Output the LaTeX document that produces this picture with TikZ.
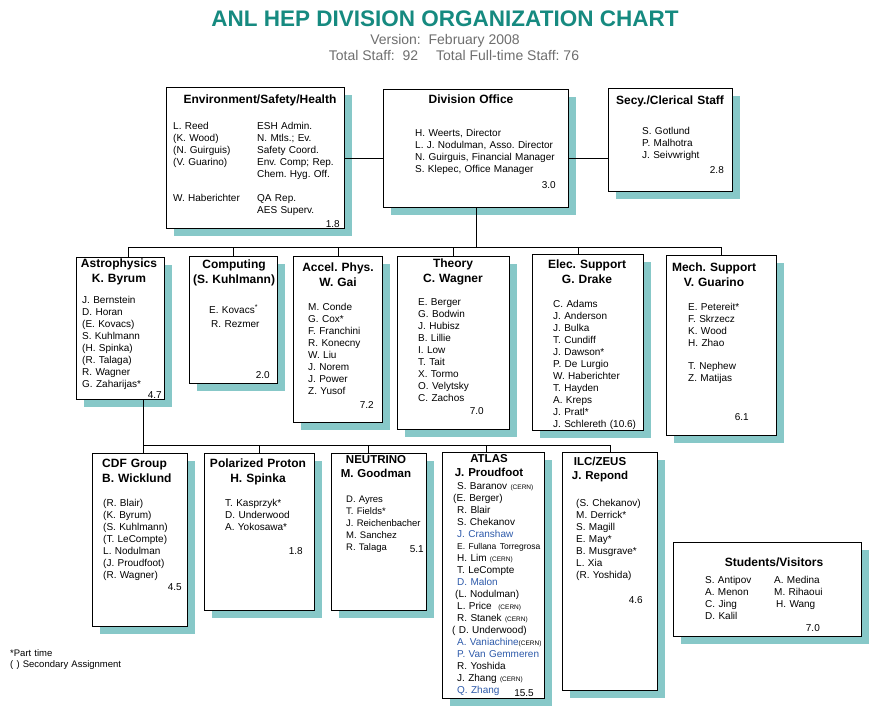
\documentclass[tikz,border=0pt]{standalone}
\usepackage{fontspec}
\setmainfont{Liberation Sans}
\frenchspacing
\usetikzlibrary{positioning,shadows}
\definecolor{chartteal}{RGB}{22,138,128}
\definecolor{boxshade}{RGB}{135,200,200}
\definecolor{subgray}{RGB}{110,110,110}
\definecolor{namblue}{RGB}{45,90,170}
\begin{document}
\begin{tikzpicture}[x=1pt,y=-1pt,
  box/.style={draw, line width=1pt, fill=white, anchor=north west, inner sep=0pt,
    drop shadow={shadow xshift=7pt, shadow yshift=-7pt, fill=boxshade, opacity=1}},
  head/.style={font=\fontsize{12}{15}\selectfont\bfseries, text width=170pt, align=center, anchor=base, inner sep=0pt},
  smallhead/.style={head, font=\fontsize{11.5}{14}\selectfont\bfseries},
  list/.style={font=\fontsize{10}{12}\selectfont, text width=150pt, align=left, anchor=base west, inner sep=0pt},
  num/.style={font=\fontsize{10}{12}\selectfont, anchor=base east, inner sep=0pt},
  link/.style={line width=0.8pt}]
\useasboundingbox (0,0) rectangle (896,716);

% title
\node[font=\fontsize{22.5}{26}\selectfont\bfseries, text=chartteal, anchor=base, inner sep=0pt] (title) at (445,26) {ANL HEP DIVISION ORGANIZATION CHART};
\node[font=\fontsize{14}{16}\selectfont, text=subgray, anchor=base, inner sep=0pt] (version) at (445,44) {Version:\ \ February 2008};
\node[font=\fontsize{14}{16}\selectfont, text=subgray, anchor=base, inner sep=0pt] (total) at (454,60) {Total Staff:\ \ 92\hspace{18pt}Total Full-time Staff:\ 76};

% top row
\node[box, minimum width=178, minimum height=141] (esh) at (166,87) {};
\node[head] (eshh) at ([shift={(94,16)}]esh.north west) {Environment/Safety/Health};
\node[list] (eshl) at ([shift={(7,42)}]esh.north west) {L. Reed\\(K. Wood)\\(N. Guirguis)\\(V. Guarino)\\[24pt]W. Haberichter};
\node[list] (eshr) at ([shift={(91,42)}]esh.north west) {ESH Admin.\\N. Mtls.; Ev.\\Safety Coord.\\Env. Comp; Rep.\\Chem. Hyg. Off.\\[12pt]QA Rep.\\AES Superv.};
\node[num] (eshn) at ([shift={(-5,-2)}]esh.south east) {1.8};

\node[box, minimum width=185, minimum height=118] (div) at (383,89) {};
\node[head] (divh) at ([shift={(88,14)}]div.north west) {Division Office};
\node[list] (divl) at ([shift={(32,47)}]div.north west) {H. Weerts, Director\\L. J. Nodulman, Asso. Director\\N. Guirguis, Financial Manager\\S. Klepec, Office Manager};
\node[num] (divn) at ([shift={(-13,-20)}]div.south east) {3.0};

\node[box, minimum width=124, minimum height=103] (secy) at (608,88) {};
\node[head] (secyh) at ([shift={(62,16)}]secy.north west) {Secy./Clerical Staff};
\node[list] (secyl) at ([shift={(34,46)}]secy.north west) {S. Gotlund\\P. Malhotra\\J. Seivwright};
\node[num] (secyn) at ([shift={(-9,-19)}]secy.south east) {2.8};

% groups
\node[box, minimum width=88, minimum height=142] (astro) at (76,257) {};
\node[head] (astroh) at ([shift={(43,10)}]astro.north west) {Astrophysics\\K. Byrum};
\node[list] (astrol) at ([shift={(6,46)}]astro.north west) {J. Bernstein\\D. Horan\\(E. Kovacs)\\S. Kuhlmann\\(H. Spinka)\\(R. Talaga)\\R. Wagner\\G. Zaharijas*};
\node[num] (astron) at ([shift={(-3,-2)}]astro.south east) {4.7};

\node[box, minimum width=88, minimum height=127] (comp) at (189,256) {};
\node[head] (comph) at ([shift={(45,12)}]comp.north west) {Computing\\(S. Kuhlmann)};
\node[list] (compl) at ([shift={(20,57)}]comp.north west) {E. Kovacs\textsuperscript{*}\\[2pt]\hspace*{2pt}R. Rezmer};
\node[num] (compn) at ([shift={(-8,-6)}]comp.south east) {2.0};

\node[box, minimum width=89, minimum height=166] (accel) at (293,256) {};
\node[head] (accelh) at ([shift={(45,15)}]accel.north west) {Accel. Phys.\\W. Gai};
\node[list] (accell) at ([shift={(15,54)}]accel.north west) {M. Conde\\G. Cox*\\F. Franchini\\R. Konecny\\W. Liu\\J. Norem\\J.\ Power\\Z. Yusof};
\node[num] (acceln) at ([shift={(-9,-15)}]accel.south east) {7.2};

\node[box, minimum width=112, minimum height=173] (theory) at (397,256) {};
\node[head] (theoryh) at ([shift={(56,11)}]theory.north west) {Theory\\C. Wagner};
\node[list] (theoryl) at ([shift={(21,49)}]theory.north west) {E. Berger\\G. Bodwin\\J. Hubisz\\B. Lillie\\I. Low\\T. Tait\\X. Tormo\\O. Velytsky\\C. Zachos};
\node[num] (theoryn) at ([shift={(-26,-16)}]theory.south east) {7.0};

\node[box, minimum width=111, minimum height=176] (elec) at (532,254) {};
\node[head] (elech) at ([shift={(55,14)}]elec.north west) {Elec. Support\\G. Drake};
\node[list] (elecl) at ([shift={(21,53)}]elec.north west) {C. Adams\\J. Anderson\\J. Bulka\\T. Cundiff\\J. Dawson*\\P. De Lurgio\\W. Haberichter\\T. Hayden\\A. Kreps\\J. Pratl*\\J. Schlereth (10.6)};

\node[box, minimum width=110, minimum height=180] (mech) at (666,255) {};
\node[head] (mechh) at ([shift={(48,16)}]mech.north west) {Mech. Support\\V. Guarino};
\node[list] (mechl) at ([shift={(22,55)}]mech.north west) {E. Petereit*\\F. Skrzecz\\K. Wood\\H. Zhao\\[11pt]T. Nephew\\Z. Matijas};
\node[num] (mechn) at ([shift={(-28,-16)}]mech.south east) {6.1};

% experiments
\node[box, minimum width=95, minimum height=173] (cdf) at (92,453) {};
\node[head, text width=90pt, align=left, anchor=base west] (cdfh) at ([shift={(10,14)}]cdf.north west) {CDF Group\\B. Wicklund};
\node[list] (cdfl) at ([shift={(11,53)}]cdf.north west) {(R. Blair)\\(K. Byrum)\\(S. Kuhlmann)\\(T. LeCompte)\\L. Nodulman\\(J. Proudfoot)\\(R. Wagner)};
\node[num] (cdfn) at ([shift={(-6,-37)}]cdf.south east) {4.5};

\node[box, minimum width=110, minimum height=157] (pol) at (204,453) {};
\node[head] (polh) at ([shift={(54,14)}]pol.north west) {Polarized Proton\\H. Spinka};
\node[list] (poll) at ([shift={(21,53)}]pol.north west) {T. Kasprzyk*\\D. Underwood\\A. Yokosawa*};
\node[num] (poln) at ([shift={(-12,-57)}]pol.south east) {1.8};

\node[box, minimum width=95, minimum height=157] (nu) at (331,453) {};
\node[smallhead] (nuh) at ([shift={(45,10)}]nu.north west) {NEUTRINO\\M. Goodman};
\node[list, font=\fontsize{9.5}{12}\selectfont] (nul) at ([shift={(15,49)}]nu.north west) {D. Ayres\\T. Fields*\\J. Reichenbacher\\M. Sanchez\\R. Talaga};
\node[num] (nun) at ([shift={(-3,-59)}]nu.south east) {5.1};

\node[box, minimum width=102, minimum height=246] (atlas) at (442,452) {};
\node[smallhead] (atlash) at ([shift={(47,10)}]atlas.north west) {ATLAS\\J. Proudfoot};
\node[list] (atlasl) at ([shift={(15,37)}]atlas.north west) {S. Baranov {\fontsize{6.5}{7}\selectfont(CERN)}\\
\hspace*{-4pt}(E. Berger)\\
R. Blair\\
S. Chekanov\\
\textcolor{namblue}{J. Cranshaw}\\
{\fontsize{8.5}{10}\selectfont E. Fullana Torregrosa}\\
H. Lim {\fontsize{6.5}{7}\selectfont(CERN)}\\
T. LeCompte\\
\textcolor{namblue}{D. Malon}\\
\hspace*{-2pt}(L. Nodulman)\\
L. Price\ \ {\fontsize{6.5}{7}\selectfont(CERN)}\\
R. Stanek {\fontsize{6.5}{7}\selectfont(CERN)}\\
\hspace*{-5pt}( D. Underwood)\\
\textcolor{namblue}{A. Vaniachine}{\fontsize{6.5}{7}\selectfont(CERN)}\\
\textcolor{namblue}{P. Van Gemmeren}\\
R. Yoshida\\
J. Zhang {\fontsize{6.5}{7}\selectfont(CERN)}\\
\textcolor{namblue}{Q. Zhang}};
\node[num] (atlasn) at ([shift={(-11,-3)}]atlas.south east) {15.5};

\node[box, minimum width=95, minimum height=238] (ilc) at (562,452) {};
\node[smallhead] (ilch) at ([shift={(38,13)}]ilc.north west) {ILC/ZEUS\\J. Repond};
\node[list] (ilcl) at ([shift={(14,54)}]ilc.north west) {(S. Chekanov)\\M. Derrick*\\S. Magill\\E. May*\\B. Musgrave*\\L. Xia\\(R. Yoshida)};
\node[num] (ilcn) at ([shift={(-15,-88)}]ilc.south east) {4.6};

\node[box, minimum width=188, minimum height=94] (stud) at (673,542) {};
\node[head] (studh) at ([shift={(101,24)}]stud.north west) {Students/Visitors};
\node[list] (studl) at ([shift={(32,41)}]stud.north west) {S. Antipov\\A. Menon\\C. Jing\\D. Kalil};
\node[list] (studr) at ([shift={(101,41)}]stud.north west) {A. Medina\\M. Rihaoui\\\hspace*{2pt}H. Wang};
\node[num] (studn) at ([shift={(-42,-6)}]stud.south east) {7.0};

\node[font=\fontsize{9.5}{11}\selectfont, text width=150pt, align=left, anchor=base west, inner sep=0pt] (notes) at (10,656) {*Part time\\( ) Secondary Assignment};

% connectors
\coordinate (topbus) at (0,247);
\coordinate (lowbus) at (0,445);
\coordinate (astrotop) at ([xshift=8pt]astro.north);
\coordinate (electop) at ([xshift=-10pt]elec.north);
\coordinate (astrobot) at ([xshift=23pt]astro.south);
\coordinate (nutop) at ([xshift=-11pt]nu.north);
\coordinate (atlastop) at ([xshift=-7pt]atlas.north);
\draw[link] (esh.east) -- (esh.east -| div.west);
\draw[link] (div.east |- esh.east) -- (secy.west |- esh.east);
\draw[link] (div.south) -- (div.south |- topbus);
\draw[link] (astrotop |- topbus) -- (mech.north |- topbus);
\draw[link] (astrotop |- topbus) -- (astrotop);
\draw[link] (comp.north |- topbus) -- (comp.north);
\draw[link] (accel.north |- topbus) -- (accel.north);
\draw[link] (theory.north |- topbus) -- (theory.north);
\draw[link] (electop |- topbus) -- (electop);
\draw[link] (mech.north |- topbus) -- (mech.north);
\draw[link] (astrobot) -- (astrobot |- cdf.north);
\draw[link] (astrobot |- lowbus) -- (ilc.north |- lowbus);
\draw[link] (pol.north |- lowbus) -- (pol.north);
\draw[link] (nutop |- lowbus) -- (nutop);
\draw[link] (atlastop |- lowbus) -- (atlastop);
\draw[link] (ilc.north |- lowbus) -- (ilc.north);
\end{tikzpicture}
\end{document}
